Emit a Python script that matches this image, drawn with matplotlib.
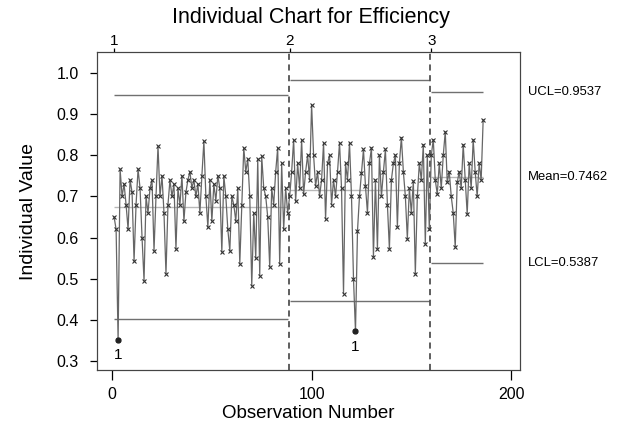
import numpy as np
import matplotlib.pyplot as plt


# --------------------------------------------------------------------------------------------------

# Efficiency values per stage
stage1 = [0.65, 0.62, 0.351, 0.766, 0.70, 0.73, 0.68, 0.62, 0.74, 0.71,
          0.543, 0.68, 0.766, 0.72, 0.60, 0.495, 0.70, 0.66, 0.72, 0.74,
          0.568, 0.70, 0.822, 0.70, 0.75, 0.66, 0.512, 0.68, 0.74, 0.70,
          0.73, 0.572, 0.72, 0.68, 0.75, 0.64, 0.71, 0.74, 0.76, 0.72,
          0.74, 0.70, 0.73, 0.66, 0.75, 0.834, 0.70, 0.625, 0.74, 0.64,
          0.73, 0.69, 0.75, 0.72, 0.565, 0.75, 0.70, 0.62, 0.568, 0.70,
          0.68, 0.64, 0.72, 0.536, 0.68, 0.818, 0.76, 0.79, 0.70, 0.483,
          0.66, 0.55, 0.79, 0.507, 0.797, 0.72, 0.70, 0.65, 0.529, 0.72,
          0.68, 0.76, 0.818, 0.536, 0.78, 0.62, 0.72, 0.66]
stage2 = [0.70, 0.76, 0.838, 0.688, 0.78, 0.72, 0.838, 0.705, 0.76, 0.80,
          0.74, 0.923, 0.80, 0.725, 0.76, 0.70, 0.74, 0.83, 0.645, 0.78,
          0.80, 0.68, 0.74, 0.70, 0.76, 0.83, 0.72, 0.464, 0.78, 0.74,
          0.83, 0.70, 0.50, 0.372, 0.616, 0.70, 0.758, 0.814, 0.725, 0.66,
          0.78, 0.818, 0.553, 0.74, 0.572, 0.80, 0.70, 0.76, 0.814, 0.68,
          0.572, 0.74, 0.78, 0.80, 0.625, 0.78, 0.843, 0.76, 0.70, 0.597,
          0.72, 0.66, 0.737, 0.512, 0.70, 0.78, 0.74, 0.826, 0.585, 0.80,
          0.62]
stage3 = [0.80, 0.838, 0.74, 0.705, 0.78, 0.72, 0.80, 0.857, 0.734, 0.76,
          0.70, 0.66, 0.577, 0.734, 0.76, 0.72, 0.826, 0.74, 0.657, 0.78,
          0.72, 0.838, 0.76, 0.70, 0.78, 0.74, 0.886]

# Control limits per stage: (UCL, mean, LCL)
limits = [(0.947, 0.675, 0.403),
          (0.983, 0.715, 0.447),
          (0.9537, 0.7462, 0.5387)]

stage_names = ['1', '2', '3']
ooc_points = [3, 122]          # observations flagged with test 1


# --------------------------------------------------------------------------------------------------

plt.rcParams['font.family'] = ['Liberation Sans', 'DejaVu Sans']

stages = [stage1, stage2, stage3]
values = np.concatenate(stages)
obs = np.arange(1, len(values) + 1)

starts = np.cumsum([1] + [len(s) for s in stages[:-1]])
ends = starts + np.array([len(s) for s in stages]) - 1

fig = plt.figure(figsize=(6.35, 4.36), dpi=100)
ax = fig.add_axes([0.153, 0.151, 0.666, 0.730])

# Control limit lines
# -------------------
for (ucl, cl, lcl), s0, s1 in zip(limits, starts, ends):
    ax.hlines([ucl, lcl], s0, s1, color='#707070', lw=1.0)
    ax.hlines(cl, s0, s1, color='#b8b8b8', lw=1.0)

for s0 in starts[1:]:
    ax.axvline(s0 - 0.5, color='#333333', lw=1.1, ls=(0, (4, 3)))

# Data
# ----
ax.plot(obs, values, color='#666666', lw=0.9, marker='x', ms=3.5, mec='#333333', mew=0.8)
for o in ooc_points:
    ax.plot(o, values[o - 1], marker='o', ms=3.5, color='#222222')
    ax.text(o, values[o - 1] - 0.02, '1', ha='center', va='top', fontsize=11)

# Axes
# ----
ax.set_xlim(-7.5, 204.5)
ax.set_ylim(0.278, 1.051)
ax.set_xticks([0, 100, 200])
ax.set_yticks(np.arange(0.3, 1.01, 0.1))
ax.set_yticklabels(['%.1f' % v for v in np.arange(0.3, 1.01, 0.1)])
ax.tick_params(axis='y', labelsize=11.5, length=5, width=0.9, pad=8)
ax.tick_params(axis='x', labelsize=11.5, length=7, width=0.9, pad=5)
ax.set_xlabel('Observation Number', fontsize=13.5, labelpad=2)
ax.set_ylabel('Individual Value', fontsize=14, labelpad=14)

top = ax.twiny()
top.set_xlim(ax.get_xlim())
top.set_xticks(starts)
top.set_xticklabels(stage_names)
top.tick_params(labelsize=11, length=3, width=0.9, pad=0)
fig.text(0.49, 0.96, 'Individual Chart for Efficiency', ha='center', va='center', fontsize=15.5)

for sp in list(ax.spines.values()) + list(top.spines.values()):
    sp.set_color('#444444')

# Limit annotations on the right
# ------------------------------
ucl, cl, lcl = limits[-1]
for v, lab in [(ucl, 'UCL=%.4f' % ucl), (cl, 'Mean=%.4f' % cl), (lcl, 'LCL=%.4f' % lcl)]:
    ax.annotate(lab, xy=(1.018, v), xycoords=('axes fraction', 'data'),
                va='center', ha='left', fontsize=9.4)

plt.savefig('out.png', dpi=100)
plt.close('all')
